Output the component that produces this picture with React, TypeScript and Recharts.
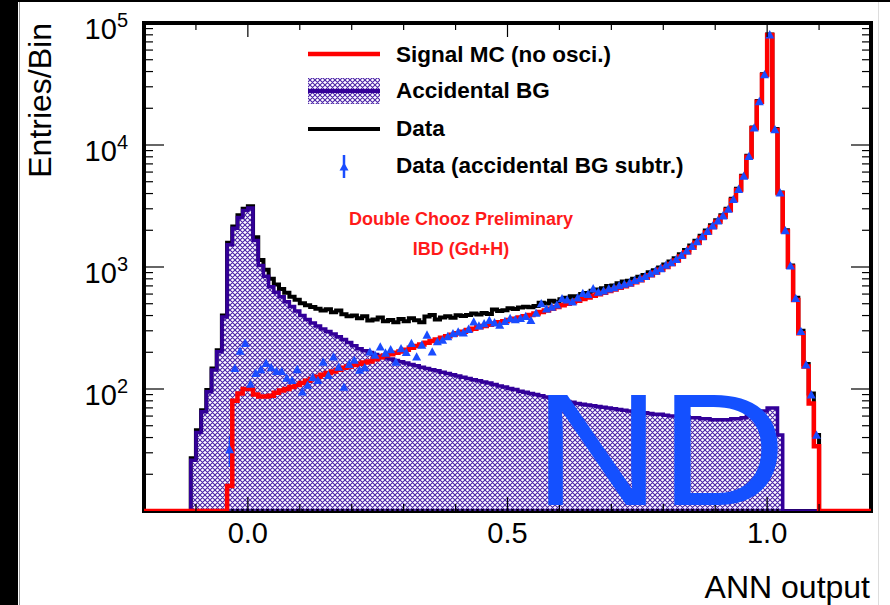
import React from 'react';
import { ComposedChart, Line, Area, Scatter, XAxis, YAxis, ReferenceArea, ErrorBar } from 'recharts';

// ---------- layout constants ----------
const W = 890;
const H = 605;
const PLOT = { left: 144, top: 23, right: 871, bottom: 511 };
const FONT = '"Liberation Sans", Arial, Helvetica, sans-serif';

const RED = '#ff0000';
const PURPLE = '#330099';
const HATCH = '#4b22a8';
const BLUE = '#1a4cff';

// ---------- binning / axes ----------
const X_MIN = -0.2;
const X_MAX = 1.2;
const BIN_WIDTH = 0.01;
const Y_MIN = 10;
const Y_MAX = 100000;

const xTicks = [-0.1, 0, 0.1, 0.2, 0.3, 0.4, 0.5, 0.6, 0.7, 0.8, 0.9, 1.0, 1.1];
const xMajorLabels: Record<string, string> = { '0': '0.0', '0.5': '0.5', '1': '1.0' };
const yTicks = [
  20, 30, 40, 50, 60, 70, 80, 90,
  100, 200, 300, 400, 500, 600, 700, 800, 900,
  1000, 2000, 3000, 4000, 5000, 6000, 7000, 8000, 9000,
  10000, 20000, 30000, 40000, 50000, 60000, 70000, 80000, 90000,
  100000,
];
const yMajorLabels: Record<string, string> = { '100': '2', '1000': '3', '10000': '4', '100000': '5' };

// ---------- series (entries per bin of width 0.01) ----------
// Accidental BG, first bin starts at -0.11
const BG_START = -0.11;
const bgValues = [
  26, 44, 65, 95, 143, 202, 390, 1520, 2080, 2550,
  2900, 3050, 1650, 1030, 840, 690, 620, 570, 520, 475,
  435, 400, 372, 348, 328, 310, 296, 283, 268, 254,
  240, 226, 214, 206, 199, 192, 186, 181, 176, 171,
  167, 163, 159, 155, 151, 147, 144, 141, 137, 134,
  131, 128, 125, 122, 119, 117, 114, 112, 109, 106,
  104, 101, 99, 96, 94, 92, 90, 88, 86, 84,
  82, 80, 79, 78, 76, 75, 74, 73, 72, 71,
  70, 69, 68, 67, 66, 65, 64, 64, 63, 62,
  62, 61, 60, 60, 59, 59, 58, 58, 57, 57,
  56, 56, 56, 56, 57, 57, 58, 60, 62, 64,
  66, 70, 70, 42,
];

// Signal MC (no osci.), first bin starts at -0.04
const SIG_START = -0.04;
const signalValues = [
  16, 80, 92, 100, 100, 90, 87, 87, 88, 93,
  97, 100, 104, 108, 112, 117, 121, 126, 131, 135,
  139, 144, 149, 153, 157, 161, 165, 168, 175, 182,
  188, 193, 198, 203, 210, 218, 225, 232, 239, 247,
  255, 263, 270, 278, 286, 295, 304, 312, 320, 328,
  336, 344, 352, 360, 368, 376, 385, 395, 405, 416,
  428, 441, 455, 470, 485, 500, 515, 530, 546, 563,
  580, 598, 615, 635, 655, 675, 695, 720, 750, 780,
  815, 855, 900, 950, 1000, 1060, 1130, 1220, 1320, 1440,
  1580, 1740, 1920, 2130, 2345, 2585, 2930, 3540, 4280, 5500,
  8020, 13700, 22600, 37500, 79800, 13270, 4015, 1950, 1005, 537,
  286, 153, 76, 34,
];

// Data, first bin starts at -0.11
const DATA_START = -0.11;
const dataValues = [
  27, 46, 67, 98, 147, 208, 400, 1580, 2150, 2650,
  3000, 3150, 1750, 1140, 950, 800, 720, 660, 615, 570,
  540, 505, 485, 470, 455, 440, 450, 425, 440, 410,
  395, 400, 380, 395, 365, 372, 385, 360, 368, 352,
  375, 360, 380, 366, 352, 392, 405, 372, 385, 395,
  384, 402, 396, 405, 415, 408, 420, 412, 448, 435,
  442, 460, 452, 465, 472, 468, 480, 510, 502, 530,
  520, 545, 560, 575, 570, 600, 612, 640, 655, 670,
  700, 705, 735, 760, 770, 800, 830, 860, 905, 940,
  990, 1050, 1110, 1180, 1270, 1380, 1500, 1640, 1800, 1990,
  2200, 2420, 2660, 3000, 3620, 4380, 5600, 8150, 13900, 22900,
  38000, 80500, 13500, 4080, 2000, 1030, 560, 300, 160, 92,
  42,
];

// Data (accidental BG subtracted), first bin starts at -0.04
const SUB_START = -0.04;
const subValues = [
  32, 148, 205, 238, 110, 135, 145, 163, 150, 140,
  140, 123, 118, 145, 95, 108, 125, 118, 167, 130,
  184, 152, 104, 160, 173, 143, 150, 202, 190, 222,
  198, 211, 167, 215, 200, 237, 184, 230, 278, 202,
  245, 252, 270, 285, 295, 290, 310, 356, 330, 345,
  366, 350, 335, 360, 380, 372, 380, 395, 366, 420,
  503, 455, 470, 490, 553, 540, 520, 560, 609, 600,
  665, 625, 640, 665, 680, 705, 725, 745, 780, 805,
  840, 885, 930, 975, 1040, 1090, 1160, 1250, 1360, 1480,
  1620, 1780, 1970, 2180, 2400, 2640, 2990, 3600, 4350, 5580,
  8100, 13850, 22800, 37900, 80300, 13400, 4060, 1990, 1025, 555,
  298, 158, 90, 42,
];
const subErrors = [9];

// ---------- build table for the library ----------
const NBINS = Math.round((X_MAX - X_MIN) / BIN_WIDTH);
const valueAt = (arr: number[], start: number, x: number) => {
  const k = Math.round((x - start) / BIN_WIDTH);
  return k >= 0 && k < arr.length ? arr[k] : 0;
};
const clampLow = (v: number) => Math.max(v, Y_MIN);

const histRows: { x: number; bg: number; sig: number; data: number }[] = [];
for (let i = 0; i <= NBINS; i++) {
  const edge = +(X_MIN + Math.min(i, NBINS - 1) * BIN_WIDTH).toFixed(2);
  const x = +(X_MIN + i * BIN_WIDTH).toFixed(2);
  histRows.push({
    x,
    bg: clampLow(valueAt(bgValues, BG_START, edge)),
    sig: clampLow(valueAt(signalValues, SIG_START, edge)),
    data: clampLow(valueAt(dataValues, DATA_START, edge)),
  });
}

const subRows = subValues.map((v, k) => ({
  x: +(SUB_START + k * BIN_WIDTH + BIN_WIDTH / 2).toFixed(3),
  v,
  err: subErrors[k] ?? 0,
}));

// ---------- custom ticks ----------
const XTick = (props: any) => {
  const { x, payload } = props;
  const v = payload.value;
  const key = String(+v.toFixed(2));
  const major = key in xMajorLabels;
  const len = major ? 14 : 7;
  return (
    <g>
      <line x1={x} x2={x} y1={PLOT.bottom} y2={PLOT.bottom - len} stroke="#000" strokeWidth={1.2} />
      <line x1={x} x2={x} y1={PLOT.top} y2={PLOT.top + len} stroke="#000" strokeWidth={1.2} />
      {major && (
        <text x={x} y={543} textAnchor="middle" fontSize={29} fontFamily={FONT} fill="#000">
          {xMajorLabels[key]}
        </text>
      )}
    </g>
  );
};

const YTick = (props: any) => {
  const { y, payload } = props;
  const v = payload.value;
  const key = String(v);
  const major = key in yMajorLabels;
  const len = major ? 20 : 9;
  return (
    <g>
      <line x1={PLOT.left} x2={PLOT.left + len} y1={y} y2={y} stroke="#000" strokeWidth={1.2} />
      <line x1={PLOT.right - len} x2={PLOT.right} y1={y} y2={y} stroke="#000" strokeWidth={1.2} />
      {major && (
        <text x={128} y={y + 16} textAnchor="end" fontSize={29} fontFamily={FONT} fill="#000">
          10
          <tspan dy={-12} fontSize={20}>{yMajorLabels[key]}</tspan>
        </text>
      )}
    </g>
  );
};

const TriangleShape = (props: any) => {
  const { cx, cy } = props;
  if (cx == null || cy == null || isNaN(cx) || isNaN(cy)) return <g />;
  const s = 4.5;
  return <path d={`M${cx},${cy - s} L${cx + s},${cy + s * 0.85} L${cx - s},${cy + s * 0.85} Z`} fill={BLUE} />;
};

export default function App() {
  return (
    <div style={{ position: 'absolute', left: 0, top: 0, width: W, height: H, background: '#fff', overflow: 'hidden' }}>
      <div style={{ position: 'absolute', left: 0, top: 0, width: 18, height: H, background: '#000' }} />
      <div style={{ position: 'absolute', left: 19, top: 0, width: 1, height: H, background: '#999' }} />
      <div style={{ position: 'absolute', left: 0, top: 0, width: W, height: 1.5, background: '#000' }} />
      <div style={{ position: 'absolute', left: 878, top: 2, width: 1, height: H, background: '#ddd' }} />

      <div style={{ position: 'absolute', left: 0, top: 0 }}>
        <ComposedChart
          width={W}
          height={H}
          data={histRows}
          margin={{ top: PLOT.top, right: W - PLOT.right, left: PLOT.left - 60, bottom: H - PLOT.bottom - 30 }}
        >
          <defs>
            <pattern id="bgHatch" patternUnits="userSpaceOnUse" width="5" height="5">
              <path d="M0,0 L5,5 M5,0 L0,5 M-1,4 L1,6 M4,-1 L6,1 M-1,1 L1,-1 M4,6 L6,4" stroke={HATCH} strokeWidth={1.1} />
            </pattern>
          </defs>
          <ReferenceArea
            x1={X_MIN}
            x2={X_MAX}
            y1={Y_MIN}
            y2={Y_MAX}
            fill="none"
            fillOpacity={0}
            stroke="#000"
            strokeWidth={4}
            ifOverflow="visible"
          />
          <XAxis
            type="number"
            dataKey="x"
            domain={[X_MIN, X_MAX]}
            allowDataOverflow
            ticks={xTicks}
            interval={0}
            tick={XTick}
            tickLine={false}
            axisLine={false}
            tickSize={0}
            tickMargin={0}
            height={30}
          />
          <YAxis
            type="number"
            scale="log"
            domain={[Y_MIN, Y_MAX]}
            allowDataOverflow
            ticks={yTicks}
            interval={0}
            tick={YTick}
            tickLine={false}
            axisLine={false}
            tickSize={0}
            tickMargin={0}
            width={60}
          />
          <Area
            type="stepAfter"
            dataKey="data"
            stroke="#000"
            strokeWidth={4}
            fill="none"
            fillOpacity={0}
            dot={false}
            activeDot={false}
            isAnimationActive={false}
          />
          <Area
            type="stepAfter"
            dataKey="bg"
            stroke={PURPLE}
            strokeWidth={3.5}
            fill="url(#bgHatch)"
            fillOpacity={1}
            dot={false}
            activeDot={false}
            isAnimationActive={false}
          />
          <Scatter data={subRows} dataKey="v" fill={BLUE} shape={TriangleShape} isAnimationActive={false}>
            <ErrorBar dataKey="err" direction="y" width={0} stroke={BLUE} strokeWidth={2} />
          </Scatter>
          <Line
            type="stepAfter"
            dataKey="sig"
            stroke={RED}
            strokeWidth={4.5}
            dot={false}
            isAnimationActive={false}
          />
        </ComposedChart>
      </div>

      <svg width={W} height={H} style={{ position: 'absolute', left: 0, top: 0, pointerEvents: 'none' }}>
        <defs>
          <pattern id="legHatch" patternUnits="userSpaceOnUse" width="5" height="5">
            <path d="M0,0 L5,5 M5,0 L0,5 M-1,4 L1,6 M4,-1 L6,1 M-1,1 L1,-1 M4,6 L6,4" stroke={HATCH} strokeWidth={1.1} />
          </pattern>
        </defs>
        {/* ND label */}
        <text x={534} y={505} fontSize={160} fontFamily={FONT} fill="#1450ff" textLength={252} lengthAdjust="spacingAndGlyphs">
          ND
        </text>

        {/* axis titles */}
        <text transform="translate(51,23) rotate(-90)" textAnchor="end" fontSize={32} fontFamily={FONT} fill="#000">
          Entries/Bin
        </text>
        <text x={870} y={598} textAnchor="end" fontSize={32} fontFamily={FONT} fill="#000">ANN output</text>

        {/* legend */}
        <line x1={308} x2={380} y1={54} y2={54} stroke={RED} strokeWidth={4.5} />
        <text x={396} y={62} fontSize={22.5} fontWeight="bold" fontFamily={FONT} fill="#000">Signal MC (no osci.)</text>
        <rect x={308} y={78} width={72} height={26} fill="url(#legHatch)" />
        <line x1={308} x2={380} y1={91} y2={91} stroke={PURPLE} strokeWidth={4} />
        <text x={396} y={98} fontSize={22.5} fontWeight="bold" fontFamily={FONT} fill="#000">Accidental BG</text>
        <line x1={308} x2={380} y1={129} y2={129} stroke="#000" strokeWidth={4} />
        <text x={396} y={136} fontSize={22.5} fontWeight="bold" fontFamily={FONT} fill="#000">Data</text>
        <line x1={344} x2={344} y1={155} y2={178} stroke={BLUE} strokeWidth={2.5} />
        <path d="M344,162.5 L348.5,170.5 L339.5,170.5 Z" fill={BLUE} />
        <text x={396} y={173} fontSize={22.5} fontWeight="bold" fontFamily={FONT} fill="#000">Data (accidental BG subtr.)</text>

        {/* annotation */}
        <text x={461} y={225} textAnchor="middle" fontSize={18} fontWeight="bold" fontFamily={FONT} fill="#ff1a1a">
          Double Chooz Preliminary
        </text>
        <text x={461} y={255} textAnchor="middle" fontSize={18} fontWeight="bold" fontFamily={FONT} fill="#ff1a1a">
          IBD (Gd+H)
        </text>
      </svg>
    </div>
  );
}
